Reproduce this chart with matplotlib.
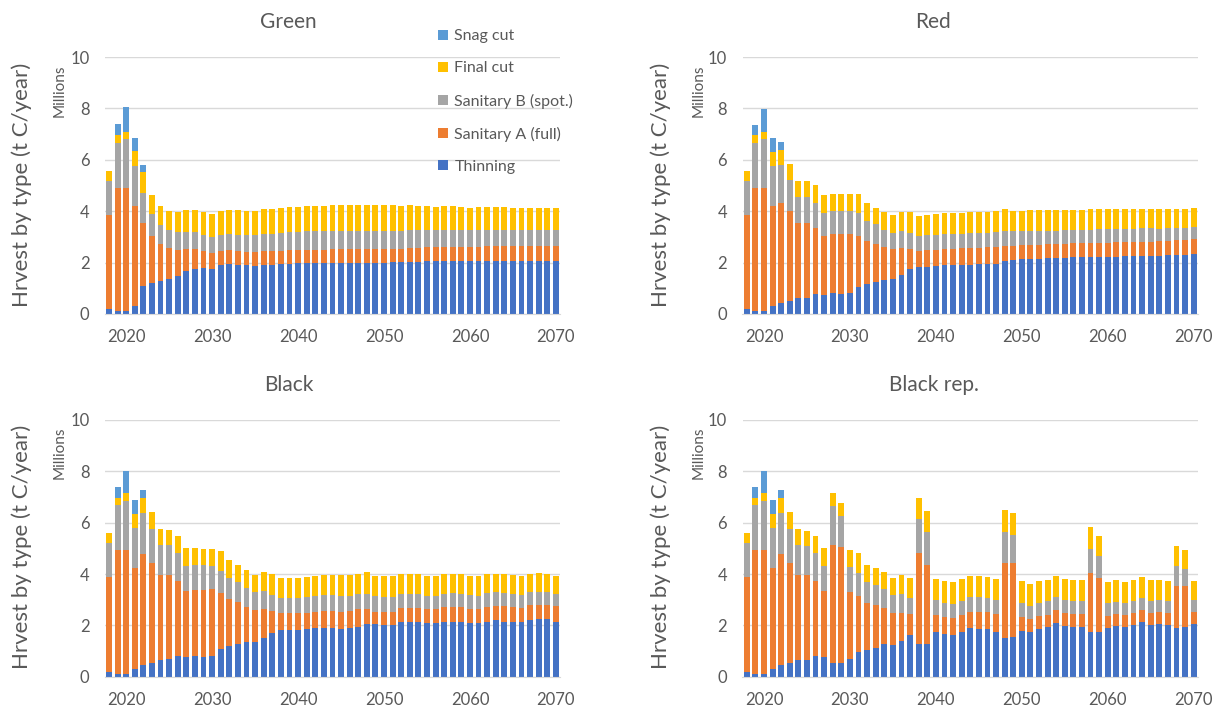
import numpy as np
import matplotlib
matplotlib.use("Agg")
import matplotlib.pyplot as plt

plt.rcParams["font.family"] = ["Lato", "DejaVu Sans"]

years = np.arange(2018, 2071)
series_names = ["Thinning", "Sanitary A (full)", "Sanitary B (spot.)", "Final cut", "Snag cut"]
colors = ["#4472C4", "#ED7D31", "#A5A5A5", "#FFC000", "#5B9BD5"]

# Green scenario (million t C / year)
green_thin = [0.18, 0.10, 0.10, 0.31, 1.09, 1.20, 1.28, 1.36, 1.49, 1.67,
              1.75, 1.79, 1.75, 1.92, 1.96, 1.92, 1.92, 1.88, 1.92, 1.92,
              1.95, 1.95, 1.98, 1.98, 1.98, 1.98, 1.98, 1.98, 1.98, 1.98,
              1.98, 1.98, 1.98, 2.01, 2.01, 2.01, 2.01, 2.05, 2.05, 2.05,
              2.05, 2.05, 2.05, 2.05, 2.05, 2.08, 2.08, 2.08, 2.08, 2.08,
              2.08, 2.08, 2.08]
green_sanA = [3.67, 4.82, 4.82, 3.91, 2.46, 1.84, 1.44, 1.22, 1.00, 0.86,
              0.77, 0.66, 0.62, 0.53, 0.53, 0.53, 0.49, 0.53, 0.53, 0.53,
              0.50, 0.53, 0.52, 0.52, 0.52, 0.52, 0.54, 0.54, 0.54, 0.54,
              0.54, 0.56, 0.56, 0.53, 0.53, 0.56, 0.56, 0.54, 0.54, 0.54,
              0.54, 0.54, 0.57, 0.57, 0.60, 0.57, 0.57, 0.57, 0.57, 0.57,
              0.57, 0.57, 0.57]
green_sanB = [1.32, 1.75, 1.89, 1.55, 1.16, 0.85, 0.74, 0.69, 0.70, 0.66,
              0.67, 0.62, 0.63, 0.62, 0.62, 0.62, 0.66, 0.66, 0.66, 0.66,
              0.70, 0.70, 0.70, 0.73, 0.73, 0.73, 0.71, 0.71, 0.71, 0.71,
              0.71, 0.69, 0.69, 0.69, 0.69, 0.69, 0.69, 0.68, 0.68, 0.68,
              0.68, 0.68, 0.65, 0.65, 0.62, 0.62, 0.62, 0.62, 0.62, 0.62,
              0.62, 0.62, 0.62]
green_final = [0.41, 0.28, 0.29, 0.57, 0.80, 0.74, 0.74, 0.73, 0.79, 0.87,
               0.87, 0.90, 0.89, 0.93, 0.95, 0.99, 0.93, 0.93, 0.99, 0.99,
               0.96, 1.00, 0.98, 0.97, 0.97, 0.97, 1.02, 1.02, 1.02, 1.02,
               1.02, 1.02, 1.02, 1.02, 0.97, 0.99, 0.94, 0.93, 0.91, 0.93,
               0.93, 0.91, 0.87, 0.91, 0.91, 0.91, 0.91, 0.85, 0.85, 0.85,
               0.85, 0.85, 0.85]
green_snag = [0, 0.43, 0.94, 0.50, 0.29] + [0] * 48

# Red scenario
red_thin = [0.18, 0.10, 0.10, 0.31, 0.42, 0.49, 0.62, 0.62, 0.78, 0.74,
            0.80, 0.78, 0.80, 1.04, 1.17, 1.23, 1.32, 1.36, 1.53, 1.74,
            1.82, 1.82, 1.87, 1.89, 1.89, 1.89, 1.89, 1.93, 1.95, 1.95,
            2.06, 2.10, 2.14, 2.14, 2.14, 2.18, 2.18, 2.18, 2.23, 2.23,
            2.23, 2.23, 2.23, 2.23, 2.27, 2.27, 2.27, 2.27, 2.27, 2.30,
            2.30, 2.30, 2.35]
red_sanA = [3.67, 4.82, 4.82, 3.91, 3.91, 3.53, 2.91, 2.93, 2.57, 2.31,
            2.30, 2.32, 2.30, 2.01, 1.68, 1.49, 1.30, 1.17, 1.05, 0.78,
            0.63, 0.66, 0.62, 0.64, 0.64, 0.67, 0.69, 0.65, 0.64, 0.67,
            0.59, 0.55, 0.53, 0.53, 0.56, 0.54, 0.54, 0.54, 0.52, 0.52,
            0.52, 0.55, 0.55, 0.57, 0.53, 0.53, 0.54, 0.54, 0.57, 0.55,
            0.58, 0.58, 0.56]
red_sanB = [1.32, 1.75, 1.89, 1.55, 1.47, 1.19, 1.02, 1.00, 0.98, 0.87,
            0.90, 0.90, 0.90, 0.87, 0.78, 0.78, 0.66, 0.64, 0.66, 0.62,
            0.59, 0.59, 0.58, 0.58, 0.58, 0.55, 0.56, 0.56, 0.57, 0.58,
            0.58, 0.58, 0.56, 0.56, 0.53, 0.52, 0.52, 0.55, 0.52, 0.52,
            0.52, 0.51, 0.54, 0.52, 0.52, 0.52, 0.54, 0.54, 0.48, 0.50,
            0.47, 0.47, 0.49]
red_final = [0.41, 0.28, 0.29, 0.55, 0.59, 0.64, 0.64, 0.64, 0.70, 0.71,
             0.66, 0.66, 0.66, 0.74, 0.70, 0.64, 0.70, 0.67, 0.74, 0.84,
             0.77, 0.78, 0.82, 0.83, 0.83, 0.83, 0.84, 0.84, 0.82, 0.81,
             0.86, 0.78, 0.78, 0.82, 0.82, 0.81, 0.81, 0.78, 0.78, 0.78,
             0.82, 0.80, 0.77, 0.77, 0.77, 0.77, 0.74, 0.74, 0.77, 0.74,
             0.74, 0.74, 0.72]
red_snag = [0, 0.39, 0.86, 0.54, 0.32] + [0] * 48

# Black scenario
black_thin = [0.19, 0.10, 0.10, 0.31, 0.45, 0.52, 0.65, 0.68, 0.79, 0.75,
              0.79, 0.75, 0.79, 1.08, 1.19, 1.26, 1.34, 1.34, 1.49, 1.72,
              1.80, 1.80, 1.80, 1.84, 1.88, 1.88, 1.88, 1.84, 1.88, 1.92,
              2.04, 2.04, 2.00, 2.00, 2.12, 2.12, 2.12, 2.08, 2.08, 2.14,
              2.14, 2.14, 2.08, 2.08, 2.14, 2.21, 2.14, 2.12, 2.12, 2.21,
              2.23, 2.23, 2.14]
black_sanA = [3.68, 4.84, 4.84, 3.92, 4.33, 3.92, 3.31, 3.28, 2.94, 2.59,
              2.59, 2.63, 2.61, 2.19, 1.82, 1.65, 1.36, 1.26, 1.15, 0.83,
              0.67, 0.67, 0.67, 0.65, 0.65, 0.68, 0.68, 0.69, 0.68, 0.70,
              0.58, 0.49, 0.53, 0.53, 0.54, 0.54, 0.54, 0.54, 0.54, 0.56,
              0.56, 0.56, 0.54, 0.54, 0.56, 0.54, 0.61, 0.58, 0.54, 0.57,
              0.56, 0.56, 0.61]
black_sanB = [1.32, 1.75, 1.90, 1.58, 1.60, 1.31, 1.17, 1.17, 1.08, 0.98,
              0.98, 0.98, 0.90, 0.86, 0.85, 0.79, 0.77, 0.71, 0.70, 0.63,
              0.58, 0.58, 0.58, 0.60, 0.61, 0.61, 0.61, 0.61, 0.58, 0.60,
              0.60, 0.61, 0.56, 0.56, 0.56, 0.56, 0.56, 0.52, 0.52, 0.52,
              0.57, 0.52, 0.56, 0.52, 0.55, 0.55, 0.52, 0.52, 0.52, 0.52,
              0.52, 0.51, 0.47]
black_final = [0.41, 0.28, 0.30, 0.54, 0.59, 0.68, 0.62, 0.60, 0.67, 0.71,
               0.67, 0.63, 0.69, 0.78, 0.70, 0.66, 0.69, 0.66, 0.72, 0.82,
               0.78, 0.78, 0.78, 0.78, 0.78, 0.79, 0.79, 0.82, 0.82, 0.78,
               0.86, 0.78, 0.83, 0.83, 0.78, 0.78, 0.78, 0.78, 0.78, 0.78,
               0.73, 0.78, 0.74, 0.78, 0.75, 0.70, 0.73, 0.74, 0.74, 0.70,
               0.74, 0.70, 0.70]
black_snag = [0, 0.41, 0.86, 0.55, 0.32] + [0] * 48

# Black scenario, repeated disturbance
rep_thin = [0.19, 0.10, 0.10, 0.31, 0.45, 0.52, 0.65, 0.65, 0.79, 0.75,
            0.52, 0.52, 0.68, 0.95, 1.04, 1.10, 1.27, 1.23, 1.39, 1.62,
            1.26, 1.26, 1.75, 1.66, 1.61, 1.73, 1.91, 1.86, 1.86, 1.75,
            1.49, 1.53, 1.79, 1.73, 1.86, 1.94, 2.08, 1.97, 1.94, 1.94,
            1.73, 1.73, 1.91, 1.97, 1.94, 2.01, 2.12, 2.01, 2.05, 2.01,
            1.91, 1.94, 2.05]
rep_sanA = [3.68, 4.84, 4.84, 3.92, 4.33, 3.92, 3.31, 3.31, 2.94, 2.59,
            4.61, 4.54, 2.63, 2.19, 1.82, 1.69, 1.39, 1.26, 1.10, 0.81,
            3.55, 3.09, 0.65, 0.68, 0.69, 0.67, 0.60, 0.65, 0.65, 0.68,
            2.93, 2.91, 0.52, 0.50, 0.50, 0.46, 0.52, 0.50, 0.49, 0.49,
            2.30, 2.13, 0.45, 0.47, 0.45, 0.46, 0.48, 0.46, 0.46, 0.46,
            1.64, 1.61, 0.46]
rep_sanB = [1.32, 1.75, 1.90, 1.58, 1.60, 1.31, 1.17, 1.12, 1.08, 0.98,
            1.52, 1.20, 0.98, 0.91, 0.84, 0.78, 0.74, 0.69, 0.73, 0.62,
            1.33, 1.30, 0.59, 0.52, 0.52, 0.55, 0.59, 0.59, 0.54, 0.56,
            1.23, 1.08, 0.55, 0.52, 0.50, 0.55, 0.50, 0.52, 0.52, 0.52,
            0.94, 0.84, 0.50, 0.46, 0.47, 0.48, 0.45, 0.48, 0.48, 0.49,
            0.77, 0.63, 0.48]
rep_final = [0.41, 0.28, 0.30, 0.54, 0.59, 0.68, 0.62, 0.58, 0.67, 0.69,
             0.49, 0.49, 0.65, 0.78, 0.65, 0.68, 0.69, 0.68, 0.74, 0.81,
             0.83, 0.82, 0.82, 0.87, 0.86, 0.86, 0.81, 0.81, 0.82, 0.82,
             0.84, 0.87, 0.87, 0.85, 0.87, 0.82, 0.81, 0.82, 0.82, 0.82,
             0.87, 0.79, 0.82, 0.87, 0.82, 0.82, 0.82, 0.82, 0.78, 0.77,
             0.78, 0.76, 0.74]
rep_snag = [0, 0.41, 0.86, 0.55, 0.32] + [0] * 48

panels = [
    ("Green", [green_thin, green_sanA, green_sanB, green_final, green_snag]),
    ("Red", [red_thin, red_sanA, red_sanB, red_final, red_snag]),
    ("Black", [black_thin, black_sanA, black_sanB, black_final, black_snag]),
    ("Black rep.", [rep_thin, rep_sanA, rep_sanB, rep_final, rep_snag]),
]

txt = "#595959"
grid = "#D9D9D9"

fig = plt.figure(figsize=(12.17, 7.06), dpi=100)

# axes rectangles in figure fraction
W, H = 1217, 706
boxes = [(104.7, 314, 57), (742.5, 314, 57), (104.7, 676.7, 420), (742.5, 676.7, 420)]
axw = 455.5

handles = None
for i, ((title, data), (x0, ybot, ytop)) in enumerate(zip(panels, boxes)):
    ax = fig.add_axes([x0 / W, 1 - ybot / H, axw / W, (ybot - ytop) / H])
    bottom = np.zeros(len(years))
    bars = []
    for vals, name, c in zip(data, series_names, colors):
        vals = np.array(vals, dtype=float)
        b = ax.bar(years, vals, bottom=bottom, width=0.68, color=c, label=name, zorder=2)
        bars.append(b)
        bottom += vals
    if handles is None:
        handles = bars
    ax.set_xlim(2017.5, 2070.5)
    ax.set_ylim(0, 10)
    ax.set_yticks([0, 2, 4, 6, 8, 10])
    ax.set_xticks([2020, 2030, 2040, 2050, 2060, 2070])
    ax.yaxis.grid(True, color=grid, linewidth=1.0, zorder=0)
    for s in ["top", "right", "left"]:
        ax.spines[s].set_visible(False)
    ax.spines["bottom"].set_color(grid)
    ax.tick_params(length=0, labelsize=12, colors=txt)
    ax.tick_params(axis="x", pad=11)
    ax.tick_params(axis="y", pad=11)

    xc = 0.237 if i % 2 == 0 else 0.767
    ytitle = 1 - 22 / H if i < 2 else 1 - 385 / H
    fig.text(xc, ytitle, title, ha="center", va="center", fontsize=15, color=txt)

    xlab = 22 / W if i % 2 == 0 else 661 / W
    ylab = 1 - 185 / H if i < 2 else 1 - 547 / H
    fig.text(xlab, ylab, "Hrvest by type (t C/year)", rotation=90, ha="center",
             va="center", fontsize=16, color=txt)
    xm = 60 / W if i % 2 == 0 else 699 / W
    ym = 1 - 91 / H if i < 2 else 1 - 453 / H
    fig.text(xm, ym, "Millions", rotation=90, ha="center", va="center",
             fontsize=11, color=txt)

leg = fig.legend(handles[::-1], series_names[::-1], loc="upper left",
                 bbox_to_anchor=(424 / W, 1 - 15 / H), frameon=False,
                 fontsize=11.5, handlelength=0.6, handleheight=0.6,
                 handletextpad=0.4, labelspacing=1.13, labelcolor=txt)

fig.savefig("out.png", dpi=100)
